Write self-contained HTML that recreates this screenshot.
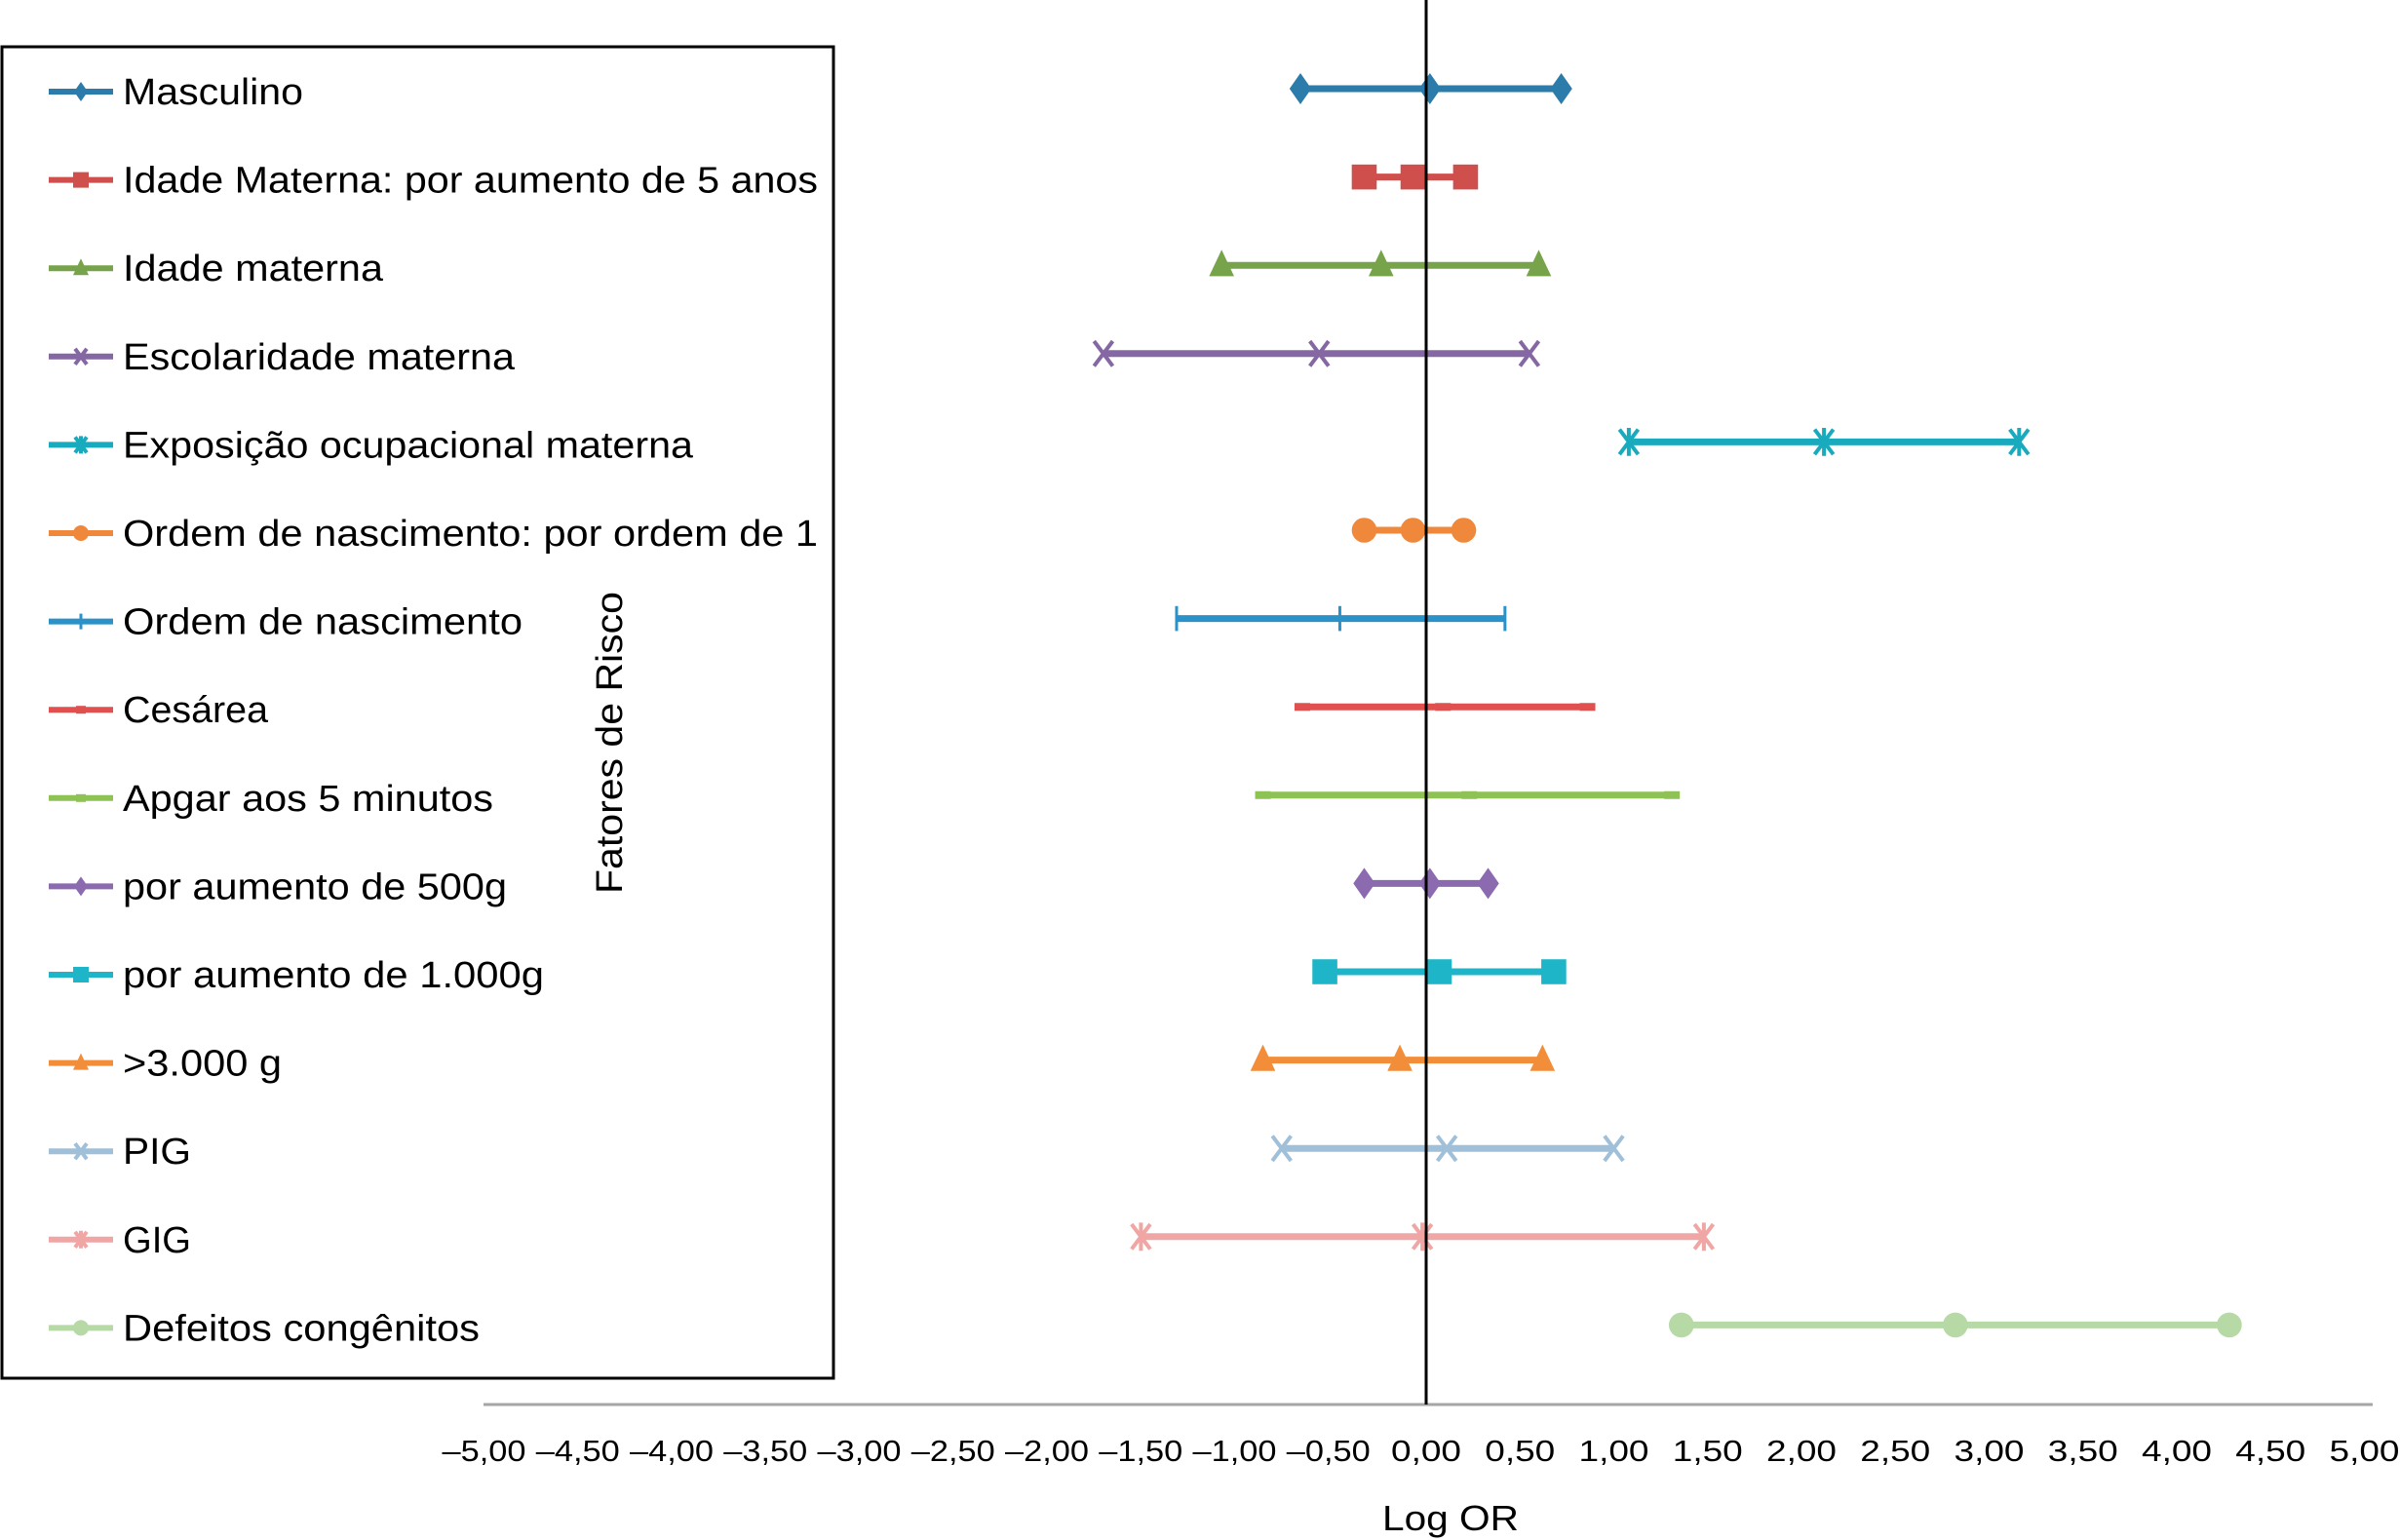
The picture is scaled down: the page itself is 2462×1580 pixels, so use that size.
<!DOCTYPE html>
<html><head><meta charset="utf-8"><style>
html,body{margin:0;padding:0;background:#fff;}
svg{display:block;font-family:"Liberation Sans",Arial,sans-serif;}
</style></head><body>
<svg id="chart" width="2462" height="1580" viewBox="0 0 2462 1580" xmlns="http://www.w3.org/2000/svg">
<rect x="2" y="48" width="853" height="1366" fill="#fff" stroke="#000" stroke-width="3"/>
<g id="legend"></g>
<g id="marks"></g>
<line x1="496" y1="1441" x2="2434" y2="1441" stroke="#a6a6a6" stroke-width="3"/>
<line x1="1463" y1="0" x2="1463" y2="1441" stroke="#000" stroke-width="3"/>
<g id="ticks"></g>
<text x="1488" y="1570" font-size="36" text-anchor="middle" textLength="140" lengthAdjust="spacingAndGlyphs">Log OR</text>
<text transform="translate(638,762) rotate(-90)" font-size="38" text-anchor="middle" textLength="310" lengthAdjust="spacingAndGlyphs">Fatores de Risco</text>
</svg>
<script>
const categories=["Masculino","Idade Materna: por aumento de 5 anos","Idade materna","Escolaridade materna","Exposição ocupacional materna","Ordem de nascimento: por ordem de 1","Ordem de nascimento","Cesárea","Apgar aos 5 minutos","por aumento de 500g","por aumento de 1.000g",">3.000 g","PIG","GIG","Defeitos congênitos"];
const lower=[-0.67,-0.33,-1.09,-1.72,1.08,-0.33,-1.33,-0.66,-0.87,-0.33,-0.54,-0.87,-0.77,-1.52,1.36];
const estimate=[0.02,-0.07,-0.24,-0.57,2.12,-0.07,-0.46,0.09,0.23,0.02,0.07,-0.14,0.11,-0.02,2.82];
const upper=[0.72,0.21,0.60,0.55,3.16,0.20,0.42,0.86,1.31,0.33,0.68,0.62,1.00,1.48,4.28];
const tickValues=[-5,-4.5,-4,-3.5,-3,-2.5,-2,-1.5,-1,-0.5,0,0.5,1,1.5,2,2.5,3,3.5,4,4.5,5];
const tickLabels=["–5,00","–4,50","–4,00","–3,50","–3,00","–2,50","–2,00","–1,50","–1,00","–0,50","0,00","0,50","1,00","1,50","2,00","2,50","3,00","3,50","4,00","4,50","5,00"];
const colors=["#2b7bab","#cf4f4c","#77a34a","#8467a3","#1aaabd","#f0883b","#2a92c8","#e0504e","#8fc255","#8c6ab0","#1fb5c9","#f28e3a","#a0bfd9","#f0a6a4","#b6d9a6"];
const shapes=["diamond","square","triangle","x","star","circle","plus","dash","dash","diamond","square","triangle","x","star","circle"];
const NS="http://www.w3.org/2000/svg";
function xs(v){return 1463+v*192.5;}
function ys(i){return 91+i*90.6;}
function mk(tag,attrs,parent){const e=document.createElementNS(NS,tag);for(const k in attrs)e.setAttribute(k,attrs[k]);parent.appendChild(e);return e;}
function marker(g,shape,cx,cy,c,s){
  if(shape==="diamond")return mk("polygon",{points:`${cx},${cy-s} ${cx+s*0.7},${cy} ${cx},${cy+s} ${cx-s*0.7},${cy}`,fill:c},g);
  if(shape==="square")return mk("rect",{x:cx-s*0.8,y:cy-s*0.8,width:s*1.6,height:s*1.6,fill:c},g);
  if(shape==="triangle")return mk("polygon",{points:`${cx},${cy-s} ${cx+s*0.8},${cy+s*0.7} ${cx-s*0.8},${cy+s*0.7}`,fill:c},g);
  if(shape==="circle")return mk("circle",{cx:cx,cy:cy,r:s*0.8,fill:c},g);
  if(shape==="x")return mk("path",{d:`M${cx-s*0.6},${cy-s*0.8}L${cx+s*0.6},${cy+s*0.8}M${cx+s*0.6},${cy-s*0.8}L${cx-s*0.6},${cy+s*0.8}`,stroke:c,"stroke-width":4,fill:"none"},g);
  if(shape==="star")return mk("path",{d:`M${cx-s*0.6},${cy-s*0.8}L${cx+s*0.6},${cy+s*0.8}M${cx+s*0.6},${cy-s*0.8}L${cx-s*0.6},${cy+s*0.8}M${cx},${cy-s*0.9}L${cx},${cy+s*0.9}`,stroke:c,"stroke-width":4,fill:"none"},g);
  if(shape==="plus")return mk("path",{d:`M${cx},${cy-s*0.8}L${cx},${cy+s*0.8}`,stroke:c,"stroke-width":3,fill:"none"},g);
  if(shape==="dash")return mk("path",{d:`M${cx-s*0.5},${cy}L${cx+s*0.5},${cy}`,stroke:c,"stroke-width":8,fill:"none"},g);
}
const marks=document.getElementById("marks");
const legend=document.getElementById("legend");
const legW=[185,713,267,402,585,713,410,149,380,394,432,163,70,70,366];
categories.forEach((name,i)=>{
  const g=mk("g",{},marks);
  
  
  const y=ys(i),c=colors[i];
  const ln=mk("line",{x1:xs(lower[i]),y1:y,x2:xs(upper[i]),y2:y,stroke:c,"stroke-width":7},g);
  
  
  [lower[i],estimate[i],upper[i]].forEach(v=>{
    const m=marker(g,shapes[i],xs(v),y,c,16);
    
    
  });
  const ly=94+i*90.6;
  const lg=mk("g",{},legend);
  
  
  mk("line",{x1:50,y1:ly,x2:116,y2:ly,stroke:c,"stroke-width":6},lg);
  marker(lg,shapes[i],83,ly,c,10);
  const t=mk("text",{x:126,y:ly+13,"font-size":38,textLength:legW[i],lengthAdjust:"spacingAndGlyphs"},lg);
  t.textContent=name;
});
const ticks=document.getElementById("ticks");
tickValues.forEach((v,i)=>{
  const t=mk("text",{x:xs(v)+(v<0?-4:0),y:1499,"font-size":31,"text-anchor":"middle",textLength:tickLabels[i].length>4?86:72,lengthAdjust:"spacingAndGlyphs"},ticks);
  
  
  t.textContent=tickLabels[i];
});
</script>
</body></html>
